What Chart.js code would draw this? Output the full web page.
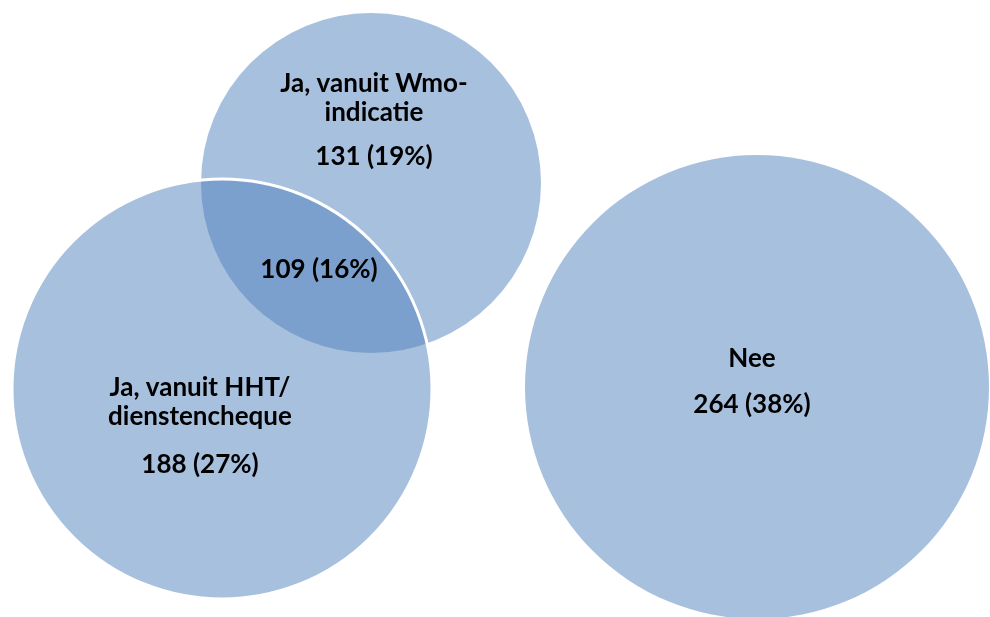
<!DOCTYPE html>
<html>
<head>
<meta charset="utf-8">
<script src="https://cdn.jsdelivr.net/npm/chart.js@4/dist/chart.umd.min.js"></script>
<style>
  html, body { margin: 0; padding: 0; background: #fff; }
  #wrap { width: 990px; height: 617px; position: relative; }
</style>
</head>
<body>
<div id="wrap"><canvas id="chart"></canvas></div>
<script>
// sets of the venn diagram (Wmo, HHT, Nee) plus the overlap
const names = ['Ja, vanuit Wmo-\nindicatie', 'Ja, vanuit HHT/\ndienstencheque', 'Nee']
const counts = [131, 188, 264]
const percents = [19, 27, 38]
const overlapCount = 109
const overlapPercent = 16

// circle layout in canvas units (x right, y down)
const centers = [[371, 183], [222, 389], [757, 387]]
const radii = [170, 210, 232]
const borders = [0, 3, 0]

// where the texts sit: name block centre y, value line y
const nameY = [98.5, 402, 359]
const valueY = [157, 465, 405]
const textX = [374, 200, 752]
const overlapText = [319, 270]

const fill = 'rgba(79, 129, 189, 0.5)'
const font = 'bold 26px Lato'
const lineH = 29

const venn = []
for (let i = 0; i < names.length; i++) {
    venn.push({x: centers[i][0], y: centers[i][1], r: radii[i]})
}

const labelPlugin = {
    id: 'vennLabels',
    afterDatasetsDraw(chart) {
        const ctx = chart.ctx
        const xs = chart.scales.x, ys = chart.scales.y
        ctx.save()
        ctx.fillStyle = '#000'
        ctx.font = font
        ctx.textAlign = 'center'
        ctx.textBaseline = 'middle'
        for (let i = 0; i < names.length; i++) {
            const lines = names[i].split('\n')
            const cx = xs.getPixelForValue(textX[i])
            let y0 = nameY[i] - (lines.length - 1) * lineH / 2
            lines.forEach((l, k) => ctx.fillText(l, cx, ys.getPixelForValue(y0 + k * lineH)))
            ctx.fillText(counts[i] + ' (' + percents[i] + '%)', cx, ys.getPixelForValue(valueY[i]))
        }
        ctx.fillText(overlapCount + ' (' + overlapPercent + '%)',
            xs.getPixelForValue(overlapText[0]), ys.getPixelForValue(overlapText[1]))
        ctx.restore()
    }
}

new Chart(document.getElementById('chart'), {
    type: 'bubble',
    data: {
        datasets: [{
            data: venn,
            backgroundColor: fill,
            borderColor: '#fff',
            borderWidth: borders,
            clip: false
        }]
    },
    options: {
        responsive: true,
        maintainAspectRatio: false,
        animation: false,
        events: [],
        layout: { padding: 0, autoPadding: false },
        plugins: { legend: { display: false }, tooltip: { enabled: false } },
        scales: {
            x: { type: 'linear', min: 0, max: 990, display: false },
            y: { type: 'linear', min: 0, max: 617, reverse: true, display: false }
        }
    },
    plugins: [labelPlugin]
})
</script>
</body>
</html>
